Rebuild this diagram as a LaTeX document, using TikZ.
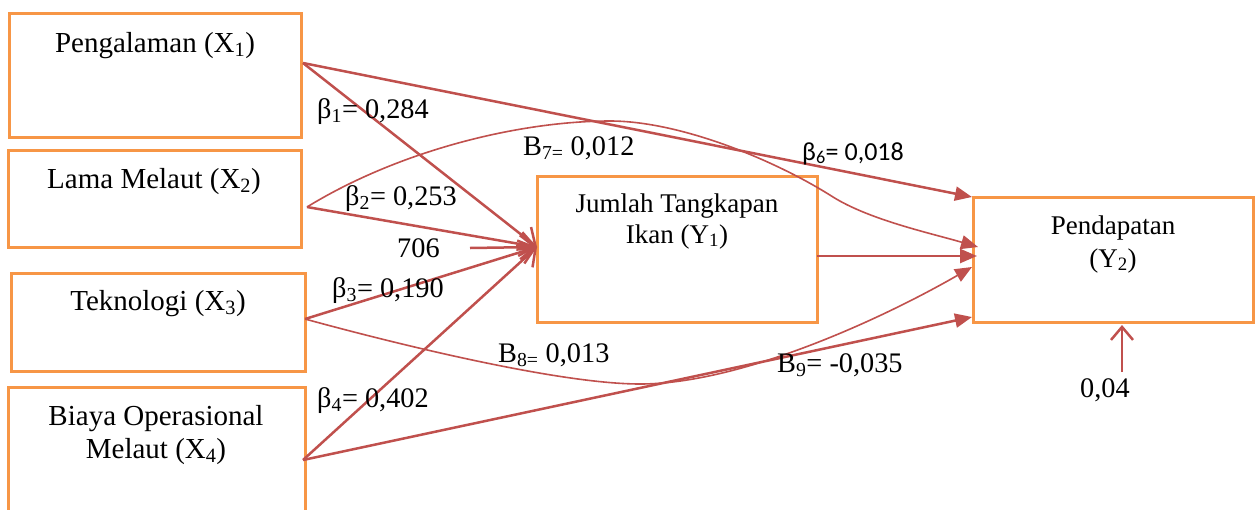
\documentclass[tikz,border=0pt]{standalone}
\usepackage{fontspec}
\setmainfont{Liberation Serif}
\newfontfamily\calib{Carlito}
\usetikzlibrary{arrows.meta}
\definecolor{boxor}{HTML}{F79646}
\definecolor{arr}{HTML}{C0504D}
\tikzset{
  vbox/.style={draw=boxor, line width=3pt, inner sep=0pt},
  txt/.style={anchor=base, inner sep=0pt},
  bigtxt/.style={txt, font=\fontsize{29}{34}\selectfont},
  lab/.style={anchor=base west, inner sep=0pt, font=\fontsize{28.3}{33}\selectfont},
  conn/.style={draw=arr, line width=2.5pt},
  thinconn/.style={draw=arr, line width=1.6pt},
  opentip/.style={-{Straight Barb[length=15pt,width=24pt]}},
  filltip/.style={-{Triangle[length=17pt,width=14pt]}},
}
\begin{document}
\begin{tikzpicture}[x=1pt,y=-1pt,font=\fontsize{27}{32}\selectfont]
\clip (0,0) rectangle (1260,509);
\fill[white] (0,0) rectangle (1260,509);
% boxes
\node[vbox, minimum width=292pt, minimum height=124pt] (x1) at (155,75) {};
\node[vbox, minimum width=293pt, minimum height=97pt] (x2) at (154.5,198.5) {};
\node[vbox, minimum width=294pt, minimum height=98pt] (x3) at (158,322) {};
\node[vbox, minimum width=297pt, minimum height=173pt] (x4) at (156.5,473.5) {};
\node[vbox, minimum width=280pt, minimum height=146pt] (y1) at (677,249) {};
\node[vbox, minimum width=280pt, minimum height=125pt] (y2) at (1113,259.5) {};
% box texts
\node[bigtxt] (x1t) at (155,52) {Pengalaman (X\textsubscript{1})};
\node[bigtxt] (x2t) at (154,188) {Lama Melaut (X\textsubscript{2})};
\node[bigtxt] (x3t) at (158,310) {Teknologi (X\textsubscript{3})};
\node[bigtxt] (x4t) at (156,425) {Biaya Operasional};
\node[bigtxt] (x4u) at (156,458) {Melaut (X\textsubscript{4})};
\node[txt] (y1t) at (677,212) {Jumlah Tangkapan};
\node[txt] (y1u) at (677,243) {Ikan (Y\textsubscript{1})};
\node[txt] (y2t) at (1113,234) {Pendapatan};
\node[txt] (y2u) at (1113,267) {(Y\textsubscript{2})};
% connection points
\coordinate (x1o) at (303,63);
\coordinate (x2o) at (307,207);
\coordinate (x3o) at (305,319);
\coordinate (x4o) at (303,460);
\coordinate (y1i) at (537,247);
\coordinate (y1o) at (817,256);
\coordinate (c706) at (470,248);
\coordinate (y2a) at (972,197);
\coordinate (y2b) at (978,247);
\coordinate (y2c) at (977,256);
\coordinate (y2d) at (972,267);
\coordinate (y2e) at (972,317);
\coordinate (e0) at (1122,372);
\coordinate (y2f) at (1122,325);
% arrows to Y1
\draw[conn, opentip] (x1o) -- (y1i);
\draw[conn, opentip] (x2o) -- (y1i);
\draw[conn, opentip] (x3o) -- (y1i);
\draw[conn, opentip] (x4o) -- (y1i);
\draw[conn, opentip] (c706) -- (y1i);
% arrows to Y2
\draw[conn, filltip] (x1o) -- (y2a);
\draw[conn, filltip] (y1o) -- (y2c);
\draw[conn, filltip] (x4o) -- (y2e);
\draw[thinconn, filltip] (x2o) .. controls (400,150) and (520,121) .. (610,121)
   .. controls (680,121) and (775,160) .. (833,197)
   .. controls (870,220) and (930,233) .. (y2b);
\draw[thinconn, filltip] (x3o) .. controls (400,345) and (560,384) .. (640,384)
   .. controls (740,384) and (880,320) .. (y2d);
\draw[draw=arr, line width=2.5pt, -{Straight Barb[length=13pt,width=22pt]}] (e0) -- (y2f);
% labels
\node[lab] (l1) at (317,118) {β\textsubscript{1}= 0,284};
\node[lab] (l7) at (523,155) {B\textsubscript{7=} 0,012};
\node[lab] (l2) at (345,205) {β\textsubscript{2}= 0,253};
\node[lab] (l706) at (397,257) {706};
\node[lab] (l3) at (332,297) {β\textsubscript{3}= 0,190};
\node[lab] (l8) at (498,362) {B\textsubscript{8=} 0,013};
\node[lab] (l4) at (317,407) {β\textsubscript{4}= 0,402};
\node[lab] (l9) at (777,372) {B\textsubscript{9}= -0,035};
\node[lab, font=\calib\fontsize{26}{31}\selectfont] (l6) at (802,160) {β\textsubscript{6}= 0,018};
\node[lab] (le) at (1080,397) {0,04};
\end{tikzpicture}
\end{document}
